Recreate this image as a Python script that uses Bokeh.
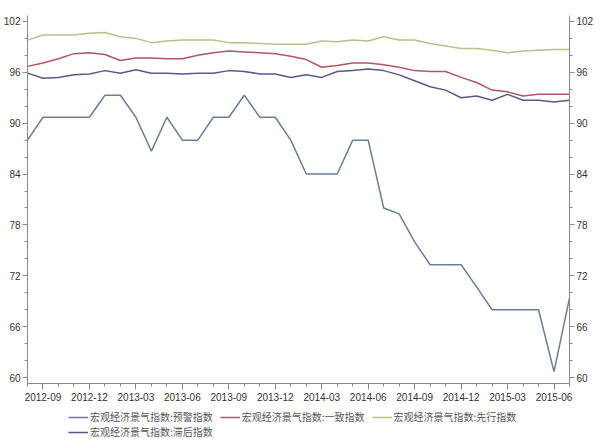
from bokeh.plotting import figure
from bokeh.layouts import column
from bokeh.models import FixedTicker, LinearAxis, Legend, LegendItem, Range1d
from bokeh.embed import file_html
from bokeh.resources import INLINE

# Monthly data, 2012-08 .. 2015-07
months = [f"{y}-{m:02d}" for y in (2012, 2013, 2014, 2015) for m in range(1, 13)]
months = months[months.index("2012-08"):months.index("2015-07") + 1]

warning = [88.0, 90.7, 90.7, 90.7, 90.7, 93.3, 93.3, 90.7, 86.7, 90.7, 88.0, 88.0,
           90.7, 90.7, 93.3, 90.7, 90.7, 88.0, 84.0, 84.0, 84.0, 88.0, 88.0, 80.0,
           79.3, 76.0, 73.3, 73.3, 73.3, 70.7, 68.0, 68.0, 68.0, 68.0, 60.7, 69.4]
coincident = [96.7, 97.1, 97.6, 98.2, 98.3, 98.1, 97.4, 97.7, 97.7, 97.6, 97.6, 98.0,
              98.3, 98.5, 98.4, 98.3, 98.2, 97.9, 97.5, 96.6, 96.8, 97.1, 97.1, 96.9,
              96.6, 96.2, 96.1, 96.1, 95.4, 94.8, 93.9, 93.7, 93.2, 93.4, 93.4, 93.4]
leading = [99.8, 100.4, 100.4, 100.4, 100.6, 100.7, 100.2, 100.0, 99.5, 99.7, 99.8, 99.8,
           99.8, 99.5, 99.5, 99.4, 99.3, 99.3, 99.3, 99.7, 99.6, 99.8, 99.7, 100.2,
           99.8, 99.8, 99.4, 99.1, 98.8, 98.8, 98.6, 98.3, 98.5, 98.6, 98.7, 98.7]
lagging = [95.9, 95.3, 95.4, 95.7, 95.8, 96.2, 95.9, 96.3, 95.9, 95.9, 95.8, 95.9,
           95.9, 96.2, 96.1, 95.8, 95.8, 95.4, 95.7, 95.4, 96.1, 96.2, 96.4, 96.2,
           95.7, 95.0, 94.3, 93.9, 93.0, 93.2, 92.7, 93.4, 92.7, 92.7, 92.5, 92.7]

tick_labels = ["2012-09", "2012-12", "2013-03", "2013-06", "2013-09", "2013-12",
               "2014-03", "2014-06", "2014-09", "2014-12", "2015-03", "2015-06"]
y_ticks = [60, 66, 72, 78, 84, 90, 96, 102]
y_minor = list(range(60, 103, 2))

series_names = ["宏观经济景气指数:预警指数", "宏观经济景气指数:一致指数",
                "宏观经济景气指数:先行指数", "宏观经济景气指数:滞后指数"]
colors = ["#6a7e98", "#b45468", "#b8c188", "#58598a"]

x = list(range(len(months)))

p = figure(width=600, height=408, x_range=Range1d(0, len(months) - 1),
           y_range=Range1d(59.3, 102.7), output_backend="svg", toolbar_location=None,
           min_border_left=23, min_border_right=31, min_border_top=15,
           min_border_bottom=25)
p.outline_line_color = None
p.xgrid.visible = False
p.ygrid.visible = False
p.background_fill_color = "white"

for vals, col in zip([warning, coincident, leading, lagging], colors):
    p.line(x, vals, line_color=col, line_width=1.5)

font = "Liberation Sans"
axis_col = "#8a8a8a"

xt = FixedTicker(ticks=[months.index(t) for t in tick_labels], minor_ticks=x)
p.xaxis.ticker = xt
p.xaxis.major_label_overrides = {months.index(t): t for t in tick_labels}
for ax in p.xaxis:
    ax.axis_line_color = axis_col
    ax.major_tick_line_color = axis_col
    ax.minor_tick_line_color = axis_col
    ax.major_tick_out = 6
    ax.major_tick_in = 0
    ax.minor_tick_out = 3
    ax.minor_tick_in = 0
    ax.major_label_text_font = font
    ax.major_label_text_font_size = "10px"
    ax.major_label_text_color = "#333333"
    ax.major_label_standoff = 3

yt = FixedTicker(ticks=y_ticks, minor_ticks=y_minor)
right = LinearAxis()
p.add_layout(right, "right")
for ax in list(p.yaxis):
    ax.ticker = yt
    ax.axis_line_color = axis_col
    ax.major_tick_line_color = axis_col
    ax.minor_tick_line_color = axis_col
    ax.major_tick_out = 5
    ax.major_tick_in = 0
    ax.minor_tick_out = 3
    ax.minor_tick_in = 0
    ax.major_label_text_font = font
    ax.major_label_text_font_size = "10px"
    ax.major_label_text_color = "#333333"
    ax.major_label_standoff = 2

# Legend strip below the chart (its sample lines sit outside the strip's visible range)
pl = figure(width=600, height=31, x_range=Range1d(0, 1), y_range=Range1d(0, 1),
            output_backend="svg", toolbar_location=None,
            x_axis_location=None, y_axis_location=None,
            min_border_left=0, min_border_right=0, min_border_top=0, min_border_bottom=0)
pl.grid.visible = False
pl.outline_line_color = None
leg_renderers = [pl.line(x=[-5, -4], y=[-5, -4], line_color=c, line_width=1.5)
                 for c in colors]
items = [LegendItem(label=n, renderers=[r]) for n, r in zip(series_names, leg_renderers)]


def make_legend(its, loc):
    return Legend(items=its, orientation="horizontal", location=loc,
                  label_text_font="Noto Sans CJK SC", label_text_font_size="10px",
                  label_text_color="#555555", glyph_width=20, glyph_height=12,
                  label_height=12, label_standoff=2, spacing=7, padding=0, margin=0,
                  border_line_color=None, background_fill_alpha=0)


pl.add_layout(make_legend(items[:3], (41, 15)))
pl.add_layout(make_legend(items[3:], (41, 0)))

layout = column(p, pl, spacing=0)
open("out.html", "w").write(file_html(layout, INLINE))
